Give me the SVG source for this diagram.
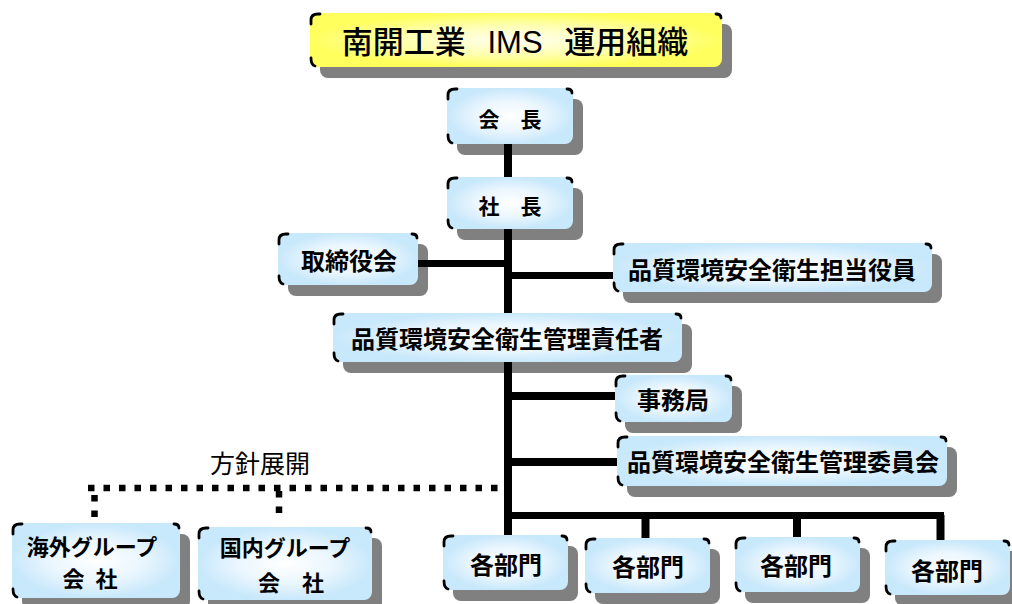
<svg xmlns="http://www.w3.org/2000/svg" width="1012" height="604" viewBox="0 0 1012 604">
<defs>
<radialGradient id="gb" cx="0.5" cy="0.5" r="0.5">
<stop offset="0" stop-color="#FFFFFF"/>
<stop offset="0.55" stop-color="#EAF6FE"/>
<stop offset="1" stop-color="#C8E8FB"/>
</radialGradient>
<radialGradient id="gy" cx="0.5" cy="0.5" r="0.5">
<stop offset="0" stop-color="#FFFFF2"/>
<stop offset="0.55" stop-color="#FFFFB0"/>
<stop offset="1" stop-color="#FFFF5E"/>
</radialGradient>
</defs>
<style>
.sh{fill:#808080}
.bx{fill:url(#gb)}
.ty{fill:url(#gy)}
.cm{fill:none;stroke:#000;stroke-width:2.8;stroke-linecap:round}
.t{font-family:"Noto Sans CJK JP",sans-serif;font-weight:bold;font-size:24px;fill:#000;text-anchor:middle}
.t2{font-size:22px}
.t3{font-size:21px}
.ttl{font-family:"Liberation Sans","Noto Sans CJK JP",sans-serif;font-weight:500;font-size:31px;fill:#000;text-anchor:middle;word-spacing:13px}
.lbl{font-family:"Noto Sans CJK JP",sans-serif;font-size:25px;fill:#000;text-anchor:middle}
.ln{fill:none;stroke:#000;stroke-width:8}
.lh{fill:none;stroke:#000;stroke-width:7}
.dt{fill:none;stroke:#000;stroke-width:6.5;stroke-dasharray:6.5 9}
</style>

<g id="title">
<rect class="sh" x="320" y="24" width="412" height="54" rx="8"/>
<rect class="ty" x="310" y="13" width="412" height="54" rx="8"/>
<path class="cm" d="M311,24 V20 Q311,14 318,14 H320 M716,14 Q721,14 721,18 M311,58 Q311,65 315,66"/>
<text class="ttl" x="515" y="53" xml:space="preserve">南開工業 IMS 運用組織</text>
</g>

<g id="kaicho">
<rect class="sh" x="457" y="99" width="126" height="56" rx="8"/>
<rect class="bx" x="447" y="88" width="126" height="56" rx="8"/>
<path class="cm" d="M448,99 V95 Q448,89 455,89 H457 M567,89 Q572,89 572,93 M448,135 Q448,142 452,143"/>
<text class="t t3" x="510" y="127">会　長</text>
</g>

<g id="shacho">
<rect class="sh" x="457" y="188" width="126" height="52" rx="8"/>
<rect class="bx" x="447" y="177" width="126" height="52" rx="8"/>
<path class="cm" d="M448,188 V184 Q448,178 455,178 H457 M567,178 Q572,178 572,182 M448,220 Q448,227 452,228"/>
<text class="t t3" x="510" y="214">社　長</text>
</g>

<g id="torishimariyakukai">
<rect class="sh" x="288" y="244" width="140" height="52" rx="8"/>
<rect class="bx" x="278" y="233" width="140" height="52" rx="8"/>
<path class="cm" d="M279,244 V240 Q279,234 286,234 H288 M412,234 Q417,234 417,238 M279,276 Q279,283 283,284"/>
<text class="t" x="349" y="270">取締役会</text>
</g>

<g id="tanto-yakuin">
<rect class="sh" x="623" y="254" width="319" height="49" rx="8"/>
<rect class="bx" x="613" y="243" width="319" height="49" rx="8"/>
<path class="cm" d="M614,254 V250 Q614,244 621,244 H623 M926,244 Q931,244 931,248 M614,283 Q614,290 618,291"/>
<text class="t" x="772" y="279">品質環境安全衛生担当役員</text>
</g>

<g id="kanri-sekininsha">
<rect class="sh" x="343" y="324" width="349" height="49" rx="8"/>
<rect class="bx" x="333" y="313" width="349" height="49" rx="8"/>
<path class="cm" d="M334,324 V320 Q334,314 341,314 H343 M676,314 Q681,314 681,318 M334,353 Q334,360 338,361"/>
<text class="t" x="507" y="348">品質環境安全衛生管理責任者</text>
</g>

<g id="jimukyoku">
<rect class="sh" x="625" y="386" width="117" height="47" rx="8"/>
<rect class="bx" x="615" y="375" width="117" height="47" rx="8"/>
<path class="cm" d="M616,386 V382 Q616,376 623,376 H625 M726,376 Q731,376 731,380 M616,413 Q616,420 620,421"/>
<text class="t" x="673" y="409">事務局</text>
</g>

<g id="iinkai">
<rect class="sh" x="627" y="447" width="330" height="50" rx="8"/>
<rect class="bx" x="617" y="436" width="330" height="50" rx="8"/>
<path class="cm" d="M618,447 V443 Q618,437 625,437 H627 M941,437 Q946,437 946,441 M618,477 Q618,484 622,485"/>
<text class="t" x="783" y="471">品質環境安全衛生管理委員会</text>
</g>

<g id="bumon1">
<rect class="sh" x="453" y="546" width="125" height="55" rx="8"/>
<rect class="bx" x="443" y="535" width="125" height="55" rx="8"/>
<path class="cm" d="M444,546 V542 Q444,536 451,536 H453 M562,536 Q567,536 567,540 M444,581 Q444,588 448,589"/>
<text class="t" x="506" y="574">各部門</text>
</g>

<g id="bumon2">
<rect class="sh" x="595" y="549" width="125" height="55" rx="8"/>
<rect class="bx" x="585" y="538" width="125" height="55" rx="8"/>
<path class="cm" d="M586,549 V545 Q586,539 593,539 H595 M704,539 Q709,539 709,543 M586,584 Q586,591 590,592"/>
<text class="t" x="648" y="576">各部門</text>
</g>

<g id="bumon3">
<rect class="sh" x="745" y="548" width="125" height="55" rx="8"/>
<rect class="bx" x="735" y="537" width="125" height="55" rx="8"/>
<path class="cm" d="M736,548 V544 Q736,538 743,538 H745 M854,538 Q859,538 859,542 M736,583 Q736,590 740,591"/>
<text class="t" x="796" y="575">各部門</text>
</g>

<g id="bumon4">
<rect class="sh" x="895" y="551" width="125" height="55" rx="8"/>
<rect class="bx" x="885" y="540" width="125" height="55" rx="8"/>
<path class="cm" d="M886,551 V547 Q886,541 893,541 H895 M1004,541 Q1009,541 1009,545 M886,586 Q886,593 890,594"/>
<text class="t" x="947" y="580">各部門</text>
</g>

<g id="kaigai-group">
<rect class="sh" x="22" y="534" width="168" height="75" rx="8"/>
<rect class="bx" x="12" y="523" width="168" height="75" rx="8"/>
<path class="cm" d="M13,534 V530 Q13,524 20,524 H22 M174,524 Q179,524 179,528 M13,589 Q13,596 17,597"/>
<text class="t t2" x="92" y="555">海外グループ</text>
<text class="t t2" x="90" y="587" style="word-spacing:6px">会 社</text>
</g>

<g id="kokunai-group">
<rect class="sh" x="208" y="538" width="174" height="73" rx="8"/>
<rect class="bx" x="198" y="527" width="174" height="73" rx="8"/>
<path class="cm" d="M199,538 V534 Q199,528 206,528 H208 M366,528 Q371,528 371,532 M199,591 Q199,598 203,599"/>
<text class="t t2" x="285" y="556">国内グループ</text>
<text class="t t2" x="291" y="591">会　社</text>
</g>

<g id="connectors">
<path class="ln" d="M508,144 V177"/>
<path class="ln" d="M508,229 V313"/>
<path class="ln" d="M508,362 V535"/>
<path class="lh" d="M418,263.5 H508"/>
<path class="lh" d="M508,275.5 H613"/>
<path class="ln" d="M508,396 H615"/>
<path class="ln" d="M508,462 H617"/>
<path class="lh" d="M504,515.5 H944"/>
<path class="ln" d="M645.5,515 V538"/>
<path class="ln" d="M797,515 V537"/>
<path class="ln" d="M940.5,515 V540"/>
<path class="dt" d="M88,488 H500"/>
<path class="dt" d="M94.5,495 V518"/>
<path class="dt" d="M279,491 V515"/>
<text class="lbl" x="260" y="473">方針展開</text>
</g>
</svg>
